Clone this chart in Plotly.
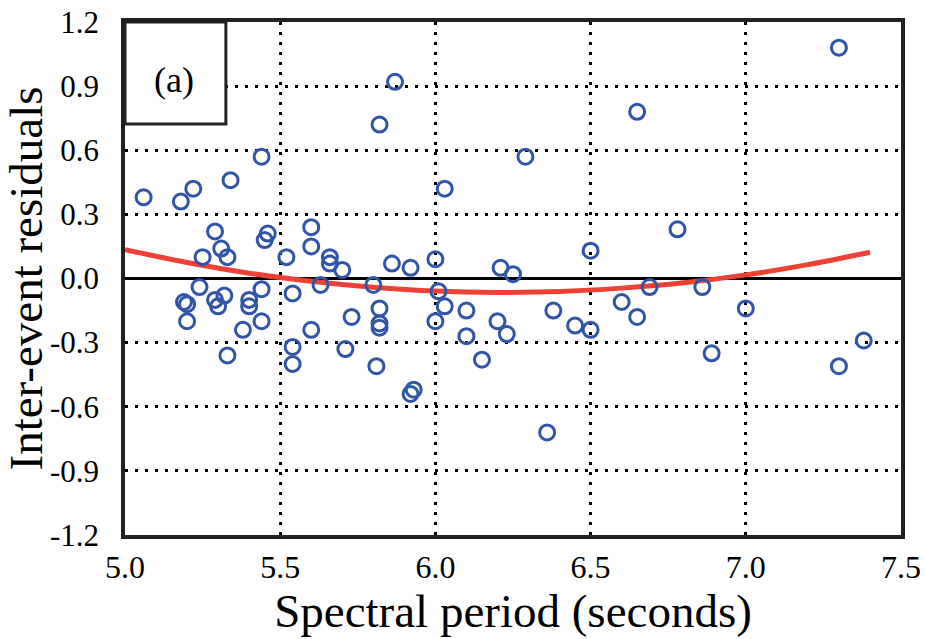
import plotly.graph_objects as go

# Inter-event residuals versus spectral period
period = [5.06, 5.18, 5.22, 5.34, 5.44, 5.82, 5.87, 5.29, 5.31, 5.33, 5.25, 5.45, 5.46,
          5.52, 5.60, 5.60, 5.66, 5.66, 5.70, 5.86, 5.92, 6.00,
          5.19, 5.20, 5.20, 5.24, 5.29, 5.30, 5.32, 5.38, 5.40, 5.40, 5.44, 5.44, 5.33,
          5.54, 5.54, 5.54, 5.60, 5.63, 5.73, 5.71, 5.80, 5.82, 5.82, 5.82, 5.81,
          5.92, 5.93, 6.00,
          6.03, 6.29, 6.65, 6.21, 6.25, 6.50, 6.78,
          6.01, 6.03, 6.10, 6.10, 6.15, 6.20, 6.23, 6.38, 6.36, 6.45, 6.50, 6.60,
          6.65, 6.69, 7.30, 6.86, 7.00, 6.89, 7.30, 7.38]
residual = [0.38, 0.36, 0.42, 0.46, 0.57, 0.72, 0.92, 0.22, 0.14, 0.10, 0.10, 0.18, 0.21,
            0.10, 0.24, 0.15, 0.10, 0.07, 0.04, 0.07, 0.05, 0.09,
            -0.11, -0.12, -0.20, -0.04, -0.10, -0.13, -0.08, -0.24, -0.10, -0.13, -0.05, -0.20, -0.36,
            -0.07, -0.32, -0.40, -0.24, -0.03, -0.18, -0.33, -0.03, -0.14, -0.21, -0.23, -0.41,
            -0.54, -0.52, -0.20,
            0.42, 0.57, 0.78, 0.05, 0.02, 0.13, 0.23,
            -0.06, -0.13, -0.15, -0.27, -0.38, -0.20, -0.26, -0.15, -0.72, -0.22, -0.24, -0.11,
            -0.18, -0.04, 1.08, -0.04, -0.14, -0.35, -0.41, -0.29]

# Trend curve through the residuals
trend_period = [5.0, 5.2, 5.4, 5.6, 5.8, 6.0, 6.2, 6.4, 6.6, 6.8, 7.0, 7.2, 7.4]
trend_value = [0.135, 0.075, 0.025, -0.013, -0.041, -0.059, -0.065, -0.061, -0.045,
               -0.020, 0.017, 0.065, 0.123]

x_ticks = [5.0, 5.5, 6.0, 6.5, 7.0, 7.5]
y_ticks = [-1.2, -0.9, -0.6, -0.3, 0.0, 0.3, 0.6, 0.9, 1.2]

font_family = "Liberation Serif"

fig = go.Figure()
fig.add_trace(go.Scatter(
    x=trend_period, y=trend_value, mode="lines", line_shape="spline",
    line=dict(color="#ec4134", width=5), hoverinfo="skip", showlegend=False,
))
fig.add_trace(go.Scatter(
    x=period, y=residual, mode="markers",
    marker=dict(symbol="circle-open", size=15, color="#2f56a6", line=dict(width=3, color="#2f56a6")),
    showlegend=False,
))

axis_common = dict(
    showgrid=True, gridcolor="black", gridwidth=2.5, griddash="3px,7px",
    showline=True, linecolor="#222", linewidth=3.5, mirror=True, automargin=False,
    ticks="", title_font=dict(family=font_family, size=47, color="black"),
)

fig.update_xaxes(
    range=[5.0, 7.5], tickvals=x_ticks, ticktext=[f"{v:.1f}" for v in x_ticks],
    tickfont=dict(family=font_family, size=32, color="black"),
    title_text="Spectral period (seconds)", title_standoff=4,
    zeroline=False, ticklabelstandoff=1, **axis_common,
)
fig.update_yaxes(
    range=[-1.2, 1.2], tickvals=y_ticks, ticktext=[f"{v:.1f}" for v in y_ticks],
    tickfont=dict(family=font_family, size=31, color="black"),
    title_text="Inter-event residuals", title_standoff=2,
    zeroline=True, zerolinecolor="black", zerolinewidth=2.5,
    ticklabelstandoff=16, **axis_common,
)

# Panel label box in the top-left corner
fig.add_shape(type="rect", xref="paper", yref="paper", x0=0, x1=0.13, y0=0.801, y1=1,
              line=dict(color="#222", width=3), fillcolor="white", layer="above")
fig.add_annotation(xref="paper", yref="paper", x=0.063, y=0.886, xanchor="center", yanchor="middle",
                   text="(a)", showarrow=False,
                   font=dict(family=font_family, size=36, color="black"))

fig.update_layout(
    width=926, height=639,
    margin=dict(l=125, r=25, t=22, b=104),
    paper_bgcolor="white", plot_bgcolor="white",
)

fig.write_html("out.html")
